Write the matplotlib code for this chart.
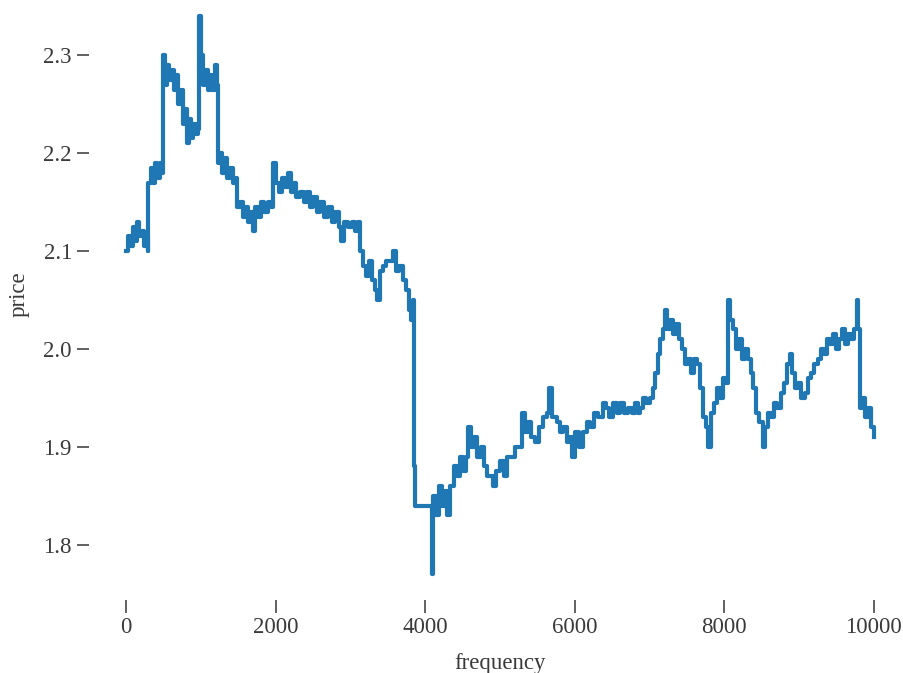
import matplotlib
matplotlib.use("Agg")
import matplotlib.pyplot as plt

# price path sampled along the frequency axis
freq = [0, 30, 60, 90, 120, 150, 180, 210, 240, 270, 294, 300, 330, 360, 390, 420, 450, 481,
        490, 520, 550, 580, 610, 640, 670, 700, 730, 760, 790, 810, 840, 870, 900, 930, 963,
        970, 1000, 1030, 1060, 1090, 1120, 1150, 1190, 1217, 1225, 1260, 1290, 1320, 1350,
        1390, 1430, 1470, 1490, 1530, 1560, 1590, 1630, 1670, 1698, 1730, 1770, 1810, 1850,
        1900, 1940, 1965, 2000, 2040, 2080, 2120, 2160, 2200, 2240, 2280, 2330, 2380, 2420,
        2460, 2500, 2550, 2600, 2650, 2700, 2750, 2800, 2850, 2880, 2920, 2970, 3020, 3060,
        3100, 3130, 3170, 3210, 3250, 3290, 3330, 3360, 3400, 3440, 3480, 3520, 3570, 3610,
        3650, 3700, 3740, 3780, 3810, 3837, 3845, 3870, 4080, 4091, 4100, 4140, 4180, 4220,
        4260, 4290, 4330, 4380, 4420, 4460, 4500, 4540, 4573, 4610, 4650, 4700, 4750, 4790,
        4830, 4870, 4910, 4950, 5000, 5050, 5100, 5150, 5200, 5268, 5300, 5340, 5380, 5420,
        5470, 5520, 5580, 5630, 5660, 5700, 5760, 5800, 5850, 5900, 5940, 5970, 6010, 6060,
        6110, 6160, 6210, 6260, 6310, 6377, 6420, 6460, 6510, 6560, 6610, 6660, 6710, 6760,
        6810, 6850, 6872, 6910, 6960, 7010, 7046, 7080, 7110, 7140, 7180, 7206, 7240, 7280,
        7320, 7360, 7400, 7440, 7480, 7520, 7560, 7600, 7640, 7680, 7720, 7760, 7781, 7820,
        7860, 7900, 7940, 7980, 8020, 8048, 8080, 8120, 8160, 8200, 8240, 8280, 8320, 8360,
        8390, 8430, 8470, 8516, 8550, 8590, 8630, 8670, 8710, 8760, 8800, 8840, 8880, 8910,
        8950, 8990, 9030, 9080, 9120, 9160, 9200, 9250, 9300, 9340, 9380, 9420, 9460, 9500,
        9540, 9580, 9620, 9660, 9700, 9740, 9773, 9790, 9813, 9840, 9880, 9920, 9960, 10000]

price = [2.10, 2.115, 2.105, 2.125, 2.11, 2.13, 2.115, 2.12, 2.105, 2.115, 2.10, 2.17, 2.185,
         2.17, 2.19, 2.175, 2.19, 2.18,
         2.30, 2.27, 2.29, 2.275, 2.285, 2.265, 2.28, 2.25, 2.265, 2.23, 2.245, 2.21, 2.235,
         2.215, 2.23, 2.22, 2.225,
         2.34, 2.30, 2.27, 2.285, 2.265, 2.28, 2.265, 2.29, 2.27, 2.19, 2.20, 2.18, 2.195, 2.175,
         2.185, 2.17, 2.175, 2.145, 2.15, 2.135, 2.145, 2.13, 2.14, 2.12, 2.145, 2.135, 2.15, 2.14,
         2.15, 2.145, 2.19, 2.17, 2.16, 2.175, 2.165, 2.18, 2.16, 2.17, 2.155, 2.16, 2.15, 2.16,
         2.145, 2.155, 2.14, 2.15, 2.135, 2.145, 2.13, 2.14, 2.125, 2.11, 2.13, 2.125, 2.13, 2.12,
         2.13, 2.10, 2.085, 2.075, 2.09, 2.07, 2.06, 2.05, 2.08, 2.085, 2.09, 2.09, 2.10, 2.08,
         2.085, 2.07, 2.06, 2.04, 2.03, 2.05, 1.88, 1.84, 1.84, 1.77, 1.85, 1.83, 1.86, 1.84,
         1.855, 1.83, 1.86, 1.88, 1.87, 1.89, 1.875, 1.89, 1.92, 1.90, 1.91, 1.89, 1.90, 1.88,
         1.87, 1.87, 1.86, 1.875, 1.885, 1.87, 1.89, 1.89, 1.90, 1.90, 1.935, 1.915, 1.925, 1.91,
         1.905, 1.92, 1.93, 1.935, 1.96, 1.93, 1.925, 1.915, 1.92, 1.905, 1.91, 1.89, 1.915, 1.90,
         1.915, 1.925, 1.92, 1.935, 1.93, 1.945, 1.94, 1.93, 1.945, 1.935, 1.945, 1.935, 1.94, 1.935,
         1.945, 1.935, 1.94, 1.95, 1.945, 1.95, 1.96, 1.975, 1.995, 2.01, 2.02, 2.04, 2.02, 2.03,
         2.015, 2.025, 2.01, 2.00, 1.985, 1.99, 1.975, 1.99, 1.985, 1.96, 1.93, 1.92, 1.90, 1.935,
         1.945, 1.96, 1.95, 1.97, 1.965, 2.05, 2.03, 2.02, 2.00, 2.01, 1.99, 2.00, 1.99, 1.975,
         1.96, 1.935, 1.925, 1.90, 1.92, 1.935, 1.93, 1.945, 1.94, 1.955, 1.965, 1.985, 1.995, 1.975,
         1.96, 1.965, 1.95, 1.955, 1.97, 1.975, 1.985, 1.99, 2.00, 1.995, 2.01, 2.005, 2.015, 2.00,
         2.01, 2.02, 2.005, 2.015, 2.01, 2.02, 2.05, 2.02, 1.94, 1.95, 1.93, 1.94, 1.92, 1.91]

x_ticks = [0, 2000, 4000, 6000, 8000, 10000]
y_ticks = [1.8, 1.9, 2.0, 2.1, 2.2, 2.3]

plt.rcParams["font.family"] = ["Liberation Serif", "DejaVu Serif"]

fig = plt.figure(figsize=(9.04, 6.73), dpi=100)
ax = fig.add_axes([0.098, 0.1085, 0.91, 0.909])

ax.plot(freq, price, drawstyle="steps-post", color="#1f77b4", linewidth=3.0)

ax.set_xlim(-500, 10500)
ax.set_ylim(1.7435, 2.3685)
ax.set_xticks(x_ticks)
ax.set_yticks(y_ticks)
ax.set_yticklabels([f"{v:.1f}" for v in y_ticks])

for side in ax.spines.values():
    side.set_visible(False)
ax.tick_params(direction="out", length=9, width=1.3, color="#555555",
               labelsize=16.5, labelcolor="#3a3a3a", pad=3)

ax.set_xlabel("frequency", fontsize=16.5, color="#3a3a3a", labelpad=11)
ax.set_ylabel("price", fontsize=16.5, color="#3a3a3a", labelpad=10)

fig.savefig("out.png", dpi=100, facecolor="white")
